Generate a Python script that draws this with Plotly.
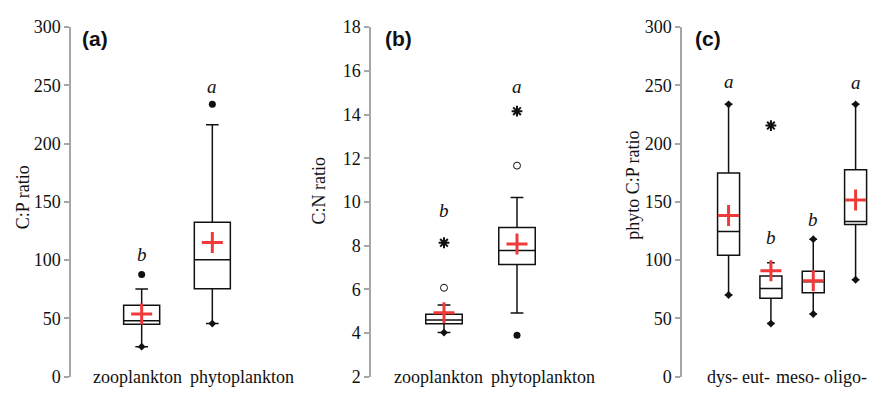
import plotly.graph_objects as go

# ---- data -------------------------------------------------------------
# (a) C:P ratio by plankton group
cats_a = ["zooplankton", "phytoplankton"]
a_q1 = [45.0, 75.5]
a_med = [48.0, 100.3]
a_q3 = [61.4, 132.6]
a_lo = [25.8, 45.6]
a_hi = [75.2, 216.3]
a_mean = [53.8, 115.2]
a_letters = ["b", "a"]
a_letter_y = [105, 249]

# (b) C:N ratio by plankton group
cats_b = ["zooplankton", "phytoplankton"]
b_q1 = [4.42, 7.13]
b_med = [4.60, 7.78]
b_q3 = [4.86, 8.83]
b_lo = [4.02, 4.92]
b_hi = [5.28, 10.2]
b_mean = [4.93, 8.07]
b_letters = ["b", "a"]
b_letter_y = [9.6, 15.3]

# (c) phytoplankton C:P ratio by trophic state
cats_c = ["dys-", "eut-", "meso-", "oligo-"]
c_q1 = [104.2, 67.4, 72.0, 130.7]
c_med = [124.5, 75.6, 81.5, 133.1]
c_q3 = [174.7, 86.4, 90.5, 177.5]
c_lo = [70.1, 45.6, 53.8, 83.2]
c_hi = [233.7, 97.8, 118.0, 233.7]
c_mean = [138.4, 91.0, 82.3, 151.6]
c_letters = ["a", "b", "b", "a"]
c_letter_y = [253.5, 119.6, 134.8, 252.7]

# outliers: (category index, value, kind)
a_out = [(0, 87.8, "dot"), (1, 233.7, "dot")]
b_out = [(0, 8.13, "star"), (0, 6.07, "open"), (1, 14.15, "star"),
         (1, 11.66, "open"), (1, 3.9, "dot")]
c_out = [(1, 215.5, "star")]

# whisker ends that coincide with a plotted observation
a_end = [(0, 25.8), (1, 45.6)]
b_end = [(0, 4.02)]
c_end = [(0, 233.7), (0, 70.1), (1, 45.6), (2, 118.0), (2, 53.8),
         (3, 233.7), (3, 83.2)]

# ---- layout geometry (pixels) ----------------------------------------
W, H = 892, 400
TOP, BOT = 18, 386
SERIF = "Liberation Serif, 'Times New Roman', Times, serif"
SANS = "Liberation Sans, Arial, sans-serif"
BLACK = "#111111"
RED = "#f03a3a"
AXIS_GRAY = "#a6a6a6"

panels = [
    dict(cats=cats_a, q1=a_q1, med=a_med, q3=a_q3, lo=a_lo, hi=a_hi,
         mean=a_mean, letters=a_letters, ly=a_letter_y, out=a_out, end=a_end,
         x0=71, x1=283, xr=[0, 3], yr=[0, 300], dtick=50, bw=0.51,
         title="C:P ratio", tx=23, ty=197, tag="(a)", tagx=80,
         lab_shift=[-4, 30]),
    dict(cats=cats_b, q1=b_q1, med=b_med, q3=b_q3, lo=b_lo, hi=b_hi,
         mean=b_mean, letters=b_letters, ly=b_letter_y, out=b_out, end=b_end,
         x0=371, x1=590, xr=[0, 3], yr=[2, 18], dtick=2, bw=0.5,
         title="C:N ratio", tx=318, ty=190, tag="(b)", tagx=383,
         lab_shift=[-6, 26]),
    dict(cats=cats_c, q1=c_q1, med=c_med, q3=c_q3, lo=c_lo, hi=c_hi,
         mean=c_mean, letters=c_letters, ly=c_letter_y, out=c_out, end=c_end,
         x0=682, x1=881, xr=[-0.1, 4.6], yr=[0, 300], dtick=50, bw=0.52,
         title="phyto C:P ratio", tx=633, ty=185, tag="(c)", tagx=693,
         lab_shift=[-6, -15, -15, -10]),
]

fig = go.Figure()
annotations = []

for i, p in enumerate(panels):
    k = "" if i == 0 else str(i + 1)
    xa, ya = "x" + k, "y" + k
    xs = list(range(1, len(p["cats"]) + 1))

    # boxes from summary statistics
    fig.add_trace(go.Box(
        x=xs, q1=p["q1"], median=p["med"], q3=p["q3"],
        lowerfence=p["lo"], upperfence=p["hi"],
        width=p["bw"], whiskerwidth=0.35,
        fillcolor="rgba(255,255,255,0)",
        line=dict(color=BLACK, width=1.5),
        boxpoints=False, hoverinfo="skip", showlegend=False,
        xaxis=xa, yaxis=ya))

    # observations at the whisker ends
    fig.add_trace(go.Scatter(
        x=[xs[c] for c, _ in p["end"]], y=[v for _, v in p["end"]],
        mode="markers", marker=dict(symbol="diamond", size=6, color=BLACK),
        showlegend=False, hoverinfo="skip", xaxis=xa, yaxis=ya))

    # outliers
    style = {
        "dot": dict(symbol="circle", size=7, color=BLACK),
        "open": dict(symbol="circle-open", size=7, color=BLACK,
                     line=dict(width=1)),
        "star": dict(symbol="asterisk", size=9, color=BLACK,
                     line=dict(width=2, color=BLACK)),
    }
    for kind, st in style.items():
        pts = [(xs[c], v) for c, v, kd in p["out"] if kd == kind]
        if not pts:
            continue
        fig.add_trace(go.Scatter(
            x=[a for a, _ in pts], y=[b for _, b in pts], mode="markers",
            marker=st, showlegend=False, hoverinfo="skip",
            xaxis=xa, yaxis=ya))
        if kind == "star":
            fig.add_trace(go.Scatter(
                x=[a for a, _ in pts], y=[b for _, b in pts], mode="markers",
                marker=dict(symbol="circle", size=4, color=BLACK),
                showlegend=False, hoverinfo="skip", xaxis=xa, yaxis=ya))

    # means
    fig.add_trace(go.Scatter(
        x=xs, y=p["mean"], mode="markers",
        marker=dict(symbol="cross-thin", size=15,
                    line=dict(width=3, color=RED), color=RED),
        showlegend=False, hoverinfo="skip", xaxis=xa, yaxis=ya))

    # significance letters
    for x, t, yv in zip(xs, p["letters"], p["ly"]):
        annotations.append(dict(
            x=x, y=yv, xref=xa, yref=ya, text=t, showarrow=False,
            font=dict(family=SERIF, size=19, color=BLACK, style="italic"),
            xanchor="center", yanchor="middle"))

    # category labels along the bottom
    for x, t, sh in zip(xs, p["cats"], p["lab_shift"]):
        annotations.append(dict(
            x=x, y=p["yr"][0], xref=xa, yref=ya, text=t, showarrow=False,
            xshift=sh, font=dict(family=SERIF, size=18, color=BLACK),
            xanchor="center", yanchor="middle"))

    # y-axis title
    annotations.append(dict(
        x=p["tx"] / W, y=1 - p["ty"] / H, xref="paper", yref="paper",
        text=p["title"], textangle=-90, showarrow=False,
        font=dict(family=SERIF, size=18, color=BLACK),
        xanchor="center", yanchor="middle"))

    # panel tag
    annotations.append(dict(
        x=p["tagx"] / W, y=1 - 30 / H, xref="paper", yref="paper",
        text="<b>" + p["tag"] + "</b>", showarrow=False,
        font=dict(family=SANS, size=21, color=BLACK),
        xanchor="left", yanchor="middle"))

    fig.update_layout(**{
        "xaxis" + k: dict(domain=[p["x0"] / W, p["x1"] / W], range=p["xr"],
                          visible=False, fixedrange=True),
        "yaxis" + k: dict(domain=[1 - BOT / H, 1 - TOP / H], range=p["yr"],
                          dtick=p["dtick"], showgrid=False, zeroline=False,
                          showline=True, linecolor=AXIS_GRAY, linewidth=1.5,
                          ticks="outside", ticklen=5, tickcolor=AXIS_GRAY,
                          tickwidth=1.5, ticklabelstandoff=0,
                          tickfont=dict(family=SERIF, size=18, color=BLACK),
                          anchor="x" + k, fixedrange=True),
    })

fig.update_layout(
    width=W, height=H, margin=dict(l=0, r=0, t=0, b=0),
    paper_bgcolor="white", plot_bgcolor="white",
    annotations=annotations, showlegend=False,
)

fig.write_html("out.html")
